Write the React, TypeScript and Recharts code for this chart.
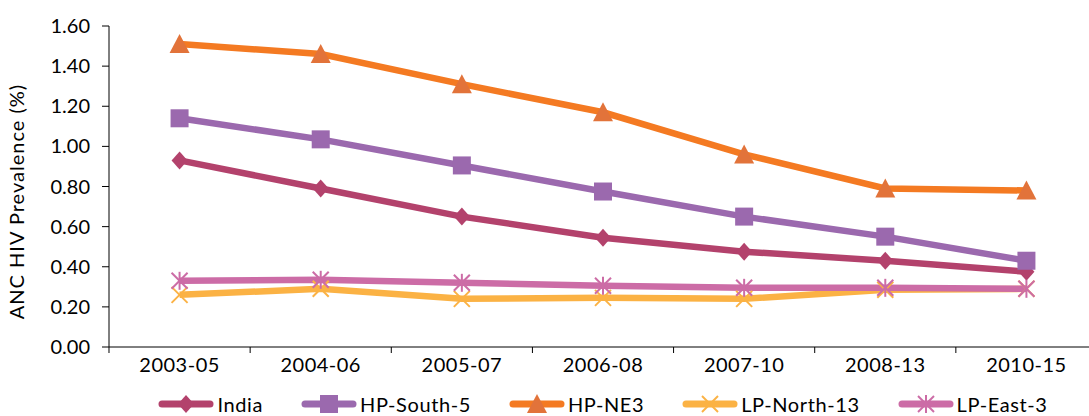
import React from 'react';
import { LineChart, Line, XAxis, YAxis } from 'recharts';

// Categories (survey rounds)
const categories = ['2003-05', '2004-06', '2005-07', '2006-08', '2007-10', '2008-13', '2010-15'];

// ANC HIV prevalence (%) per group
const india = [0.93, 0.79, 0.65, 0.545, 0.475, 0.43, 0.375];
const hpSouth5 = [1.14, 1.035, 0.905, 0.775, 0.65, 0.55, 0.43];
const hpNE3 = [1.51, 1.46, 1.31, 1.17, 0.96, 0.79, 0.78];
const lpNorth13 = [0.26, 0.29, 0.24, 0.245, 0.24, 0.285, 0.29];
const lpEast3 = [0.33, 0.335, 0.32, 0.305, 0.295, 0.295, 0.29];

const yTicks = [0, 0.2, 0.4, 0.6, 0.8, 1.0, 1.2, 1.4, 1.6];

const FONT = 'Lato, "Open Sans", sans-serif';

type Shape = 'diamond' | 'square' | 'triangle' | 'x' | 'asterisk';

const series: { key: string; name: string; values: number[]; color: string; marker: string; shape: Shape }[] = [
  { key: 'india', name: 'India', values: india, color: '#B3426C', marker: '#B3426C', shape: 'diamond' },
  { key: 'hpSouth5', name: 'HP-South-5', values: hpSouth5, color: '#9B69AE', marker: '#9B69AE', shape: 'square' },
  { key: 'hpNE3', name: 'HP-NE3', values: hpNE3, color: '#F47A22', marker: '#E2733A', shape: 'triangle' },
  { key: 'lpNorth13', name: 'LP-North-13', values: lpNorth13, color: '#FBB244', marker: '#FBB244', shape: 'x' },
  { key: 'lpEast3', name: 'LP-East-3', values: lpEast3, color: '#CC6CA6', marker: '#CC6CA6', shape: 'asterisk' },
];

const data = categories.map((c, i) => {
  const row: Record<string, string | number> = { period: c };
  series.forEach((s) => (row[s.key] = s.values[i]));
  return row;
});

const Marker = ({ cx, cy, shape, color }: { cx: number; cy: number; shape: Shape; color: string }) => {
  if (cx == null || cy == null) return null;
  switch (shape) {
    case 'diamond':
      return <polygon points={`${cx},${cy - 9} ${cx + 8},${cy} ${cx},${cy + 9} ${cx - 8},${cy}`} fill={color} />;
    case 'square':
      return <rect x={cx - 9} y={cy - 9} width={18} height={18} fill={color} />;
    case 'triangle':
      return <polygon points={`${cx},${cy - 10} ${cx + 10},${cy + 9} ${cx - 10},${cy + 9}`} fill={color} />;
    case 'x':
      return (
        <g stroke={color} strokeWidth={2}>
          <line x1={cx - 8} y1={cy - 8} x2={cx + 8} y2={cy + 8} />
          <line x1={cx - 8} y1={cy + 8} x2={cx + 8} y2={cy - 8} />
        </g>
      );
    case 'asterisk':
      return (
        <g stroke={color} strokeWidth={2}>
          <line x1={cx - 8} y1={cy - 8} x2={cx + 8} y2={cy + 8} />
          <line x1={cx - 8} y1={cy + 8} x2={cx + 8} y2={cy - 8} />
          <line x1={cx} y1={cy - 9} x2={cx} y2={cy + 9} />
        </g>
      );
  }
  return null;
};

// category label centred in its band, tick mark on the band's left edge
const XTick = (props: any) => {
  const { x, y, payload, width } = props;
  const band = (width || 988) / categories.length;
  const axisY = y - 11;
  return (
    <g>
      <line x1={x - band / 2} y1={axisY} x2={x - band / 2} y2={axisY + 6} stroke="#000" />
      <text x={x} y={y} dy="0.71em" textAnchor="middle" fill="#000" fontSize={20} fontFamily={FONT} letterSpacing={0.5}>
        {payload.value}
      </text>
    </g>
  );
};

const YLabel = ({ viewBox }: any) => {
  const cx = 24;
  const cy = viewBox.y + viewBox.height / 2 + 15;
  return (
    <text
      x={cx}
      y={cy}
      transform={`rotate(-90, ${cx}, ${cy})`}
      textAnchor="middle"
      fill="#000"
      fontSize={20}
      fontFamily={FONT}
      letterSpacing={1}
    >
      ANC HIV Prevalence (%)
    </text>
  );
};

const LegendRow = () => (
  <div
    style={{
      position: 'absolute',
      top: 393,
      left: 0,
      width: 1206,
      display: 'flex',
      justifyContent: 'center',
      gap: 38,
      fontFamily: FONT,
      fontSize: 20,
      letterSpacing: 0.6,
      color: '#000',
      lineHeight: '22px',
    }}
  >
    {series.map((s) => (
      <div key={s.key} style={{ display: 'flex', alignItems: 'center' }}>
        <svg width={56} height={22} style={{ marginRight: 3 }}>
          <line x1={4} y1={11} x2={52} y2={11} stroke={s.color} strokeWidth={7} strokeLinecap="round" />
          <Marker cx={28} cy={11} shape={s.shape} color={s.marker} />
        </svg>
        <span>{s.name}</span>
      </div>
    ))}
  </div>
);

export default function App() {
  return (
    <div style={{ position: 'absolute', top: 0, left: 0, width: 1089, height: 416, overflow: 'hidden', background: '#fff' }}>
      <LineChart width={1100} height={390} data={data} margin={{ top: 26, right: 3, left: 0, bottom: 3 }}>
        <XAxis
          dataKey="period"
          height={40}
          padding={{ left: 70.57, right: 70.57 }}
          axisLine={{ stroke: '#000' }}
          tickLine={false}
          tickSize={6}
          tickMargin={5}
          tick={<XTick />}
          interval={0}
        />
        <YAxis
          width={109}
          domain={[0, 1.6]}
          ticks={yTicks}
          tickFormatter={(v: number) => v.toFixed(2)}
          axisLine={{ stroke: '#000' }}
          tickLine={{ stroke: '#000' }}
          tickSize={7}
          tickMargin={12}
          tick={{ fill: '#000', fontSize: 20, fontFamily: FONT }}
          label={<YLabel />}
        />
        {series.map((s) => (
          <Line
            key={s.key}
            dataKey={s.key}
            name={s.name}
            stroke={s.color}
            strokeWidth={6.5}
            isAnimationActive={false}
            dot={(p: any) => <Marker key={`${s.key}-${p.index}`} cx={p.cx} cy={p.cy} shape={s.shape} color={s.marker} />}
            activeDot={false}
          />
        ))}
      </LineChart>
      <LegendRow />
    </div>
  );
}
